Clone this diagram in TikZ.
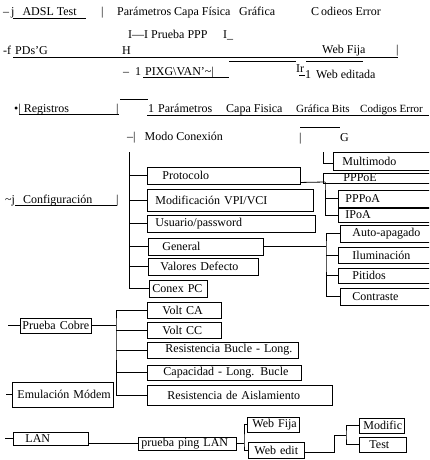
\documentclass[tikz,border=0pt]{standalone}
\usepackage{fontspec}
\setmainfont{Liberation Serif}
\tikzset{
  item/.style n args={3}{draw, line width=0.9pt, anchor=west, inner xsep=0pt, inner ysep=0pt,
    minimum height=#2, text width=#1, align=left,
    execute at begin node={\noindent\hspace*{#3}}},
  lbl/.style={anchor=base west, inner sep=0pt},
  small/.style={font=\fontsize{11}{13}\selectfont},
  rule/.style={line width=0.7pt},
  link/.style={line width=0.8pt},
}

\begin{document}
\begin{tikzpicture}[x=1pt, y=-1pt, font=\fontsize{12}{14}\selectfont]
  \useasboundingbox (0,0) rectangle (429,460);
  \clip (0,0) rectangle (429,460);

  % scanned menu headings
  \node[lbl] (adsl) at (3,16) {–\,j\hspace{8pt}ADSL Test};
  \node[lbl] (bar1) at (101,16) {|};
  \node[lbl] (par1) at (117,16) {Parámetros Capa Física};
  \node[lbl] (gra1) at (239,16) {Gráfica};
  \node[lbl] (cod1) at (311,16) {C\,odieos Error};
  \node[lbl] (ppp) at (128,39) {I—I Prueba PPP};
  \node[lbl] (ppp2) at (223,39) {I\_};
  \node[lbl] (pds) at (3,55) {-f\hspace{4pt}PDs'G};
  \node[lbl] (h) at (122,55) {H};
  \node[lbl] (wfij) at (322,53) {Web Fija};
  \node[lbl] (bar3) at (396,53) {|};
  \node[lbl] (pixg) at (123,75) {–\hspace{6pt}1\hspace{4pt}PIXG\textbackslash VAN'\textasciitilde|};
  \node[lbl] (ir) at (296,72) {Ir};
  \node[lbl] (one) at (305,78) {1};
  \node[lbl] (wedt) at (316,78) {Web editada};
  \node[lbl] (reg) at (14,112) {•|\hspace{3pt}Registros};
  \node[lbl] (bar7) at (116,112) {|};
  \node[lbl] (one7) at (148,112) {1};
  \node[lbl] (par7) at (158,112) {Parámetros};
  \node[lbl] (capa7) at (226,112) {Capa Fisica};
  \node[lbl, small] (gra7) at (296,112) {Gráfica Bits};
  \node[lbl, small] (cod7) at (360,112) {Codigos Error};
  \node[lbl] (modo) at (127,140) {–|\hspace{9pt}Modo Conexión};
  \node[lbl] (bar8) at (299,141) {|};
  \node[lbl] (g) at (340,141) {G};
  \node[lbl] (cfg) at (5,203) {\textasciitilde j\hspace{8pt}Configuración};
  \node[lbl] (bar9) at (116,203) {|};

  \draw[rule] (13,18) -- (86,18);
  \draw[rule] (13,57) -- (398,57);
  \draw[rule] (229,61) -- (296,61);
  \draw[rule] (306,61) -- (363,61);
  \draw[rule] (143,77) -- (229,77);
  \draw[rule] (299,75) -- (305,75);
  \draw[rule] (120,99) -- (148,99);
  \draw[rule] (19,114) -- (119,114);
  \draw[rule] (147,115) -- (429,115);
  \draw[rule] (300,127) -- (340,127);
  \draw[rule] (15,205) -- (117,205);

  % Configuracion
  \node[item={153pt}{17pt}{15pt}] (prot) at (147,175.5) {Protocolo};
  \node[item={166pt}{22pt}{8pt}] (vpi) at (147,200.5) {Modificación VPI/VCI};
  \node[item={168pt}{17pt}{8pt}] (usr) at (147,223.5) {Usuario/password};
  \node[item={115pt}{17pt}{14pt}] (gen) at (148,246.5) {General};
  \node[item={110pt}{17pt}{12pt}] (val) at (148,266.5) {Valores Defecto};
  \node[item={58pt}{17pt}{3pt}] (pc) at (149,288.5) {Conex PC};

  \node[item={107pt}{18pt}{9pt}] (multi) at (333,161) {Multimodo};
  \node[item={117pt}{10pt}{20pt}] (pppoe) at (323,178) {PPPoE};
  \node[item={102pt}{17pt}{7pt}] (pppoa) at (338,198.5) {PPPoA};
  \node[item={102pt}{14pt}{7pt}] (ipoa) at (338,215) {IPoA};
  \node[item={100pt}{17pt}{12pt}] (auto) at (340,233.5) {Auto-apagado};
  \node[item={102pt}{16pt}{14pt}] (ilum) at (338,255) {Iluminación};
  \node[item={102pt}{15pt}{14pt}] (pit) at (338,275.5) {Pitidos};
  \node[item={100pt}{17pt}{12pt}] (contr) at (340,296.5) {Contraste};

  \coordinate (cfgtop) at (129,152);
  \draw[link] (cfgtop) |- (pc.west);
  \foreach \n in {prot,vpi,usr,gen,val}
    \draw[link] (\n.west) -- (\n.west -| cfgtop);

  \coordinate (protj) at (325,182);
  \draw[link] ([yshift=2pt]prot.south east) -- (protj);
  \draw[link] (pppoa.west) -| (protj) |- (ipoa.west);

  \coordinate (multitop) at (323,152);
  \draw[link] (multitop) |- ([yshift=-2pt]multi.west);

  \coordinate (genj) at (326,248);
  \draw[link] (gen.east) -- (gen.east -| genj);
  \draw[link] (auto.west) -| (genj) |- (contr.west);
  \draw[link] (ilum.west) -- (ilum.west -| genj);
  \draw[link] (pit.west) -- (pit.west -| genj);

  % Prueba Cobre / Emulacion
  \node[item={71pt}{15pt}{2pt}] (cobre) at (20,325.5) {Prueba Cobre};
  \node[item={74pt}{16pt}{15pt}] (vca) at (147,310) {Volt CA};
  \node[item={74pt}{16pt}{15pt}] (vcc) at (147,330) {Volt CC};
  \node[item={151pt}{16pt}{18pt}] (rbl) at (147,350) {Resistencia Bucle - Long.};
  \node[item={154pt}{15pt}{16pt}] (cap) at (147,372.5) {Capacidad - Long. Bucle};
  \node[item={185pt}{20pt}{20pt}] (ais) at (147,395) {Resistencia de Aislamiento};
  \node[item={101pt}{25pt}{5pt}] (emu) at (12,394.5) {Emulación Módem};

  \coordinate (cobrein) at (8,325.5);
  \coordinate (cobrej) at (116,325.5);
  \draw[link] (cobrein) -- (cobre.west);
  \draw[link] (cobre.east) -- (cobrej);
  \draw[link] (vca.west) -| (cobrej) |- (ais.west);
  \foreach \n in {vcc,rbl,cap}
    \draw[link] (\n.west) -- (\n.west -| cobrej);
  \coordinate (emuin) at (6,394.5);
  \draw[link] (emuin) -- (emu.west);

  % LAN
  \node[item={75pt}{13pt}{12pt}] (lan) at (13,438.5) {LAN};
  \node[item={98pt}{13pt}{3pt}] (ping) at (138,443.5) {prueba ping LAN};
  \node[item={52pt}{15pt}{5pt}] (wfija) at (247,424.5) {Web Fija};
  \node[item={56pt}{16pt}{6pt}] (wedit) at (248,450) {Web edit};
  \node[item={45pt}{15pt}{4pt}] (modif) at (359,425.5) {Modific};
  \node[item={47pt}{15pt}{10pt}] (test) at (359,444.5) {Test};

  \coordinate (lanin) at (5,438.5);
  \draw[link] (lanin) -- (lan.west);
  \draw[link] (lan.east |- ping.west) -- (ping.west);
  \coordinate (pingj) at (244,443.5);
  \draw[link] (ping.east) -- (pingj);
  \draw[link] (wfija.west) -| (pingj) |- (wedit.west);
  \coordinate (editj) at (334,435);
  \coordinate (testj) at (346,435);
  \draw[link] ([yshift=-2pt]wedit.east) -| (editj) -- (testj);
  \draw[link] (modif.west) -| (testj) |- (test.west);
\end{tikzpicture}
\end{document}
